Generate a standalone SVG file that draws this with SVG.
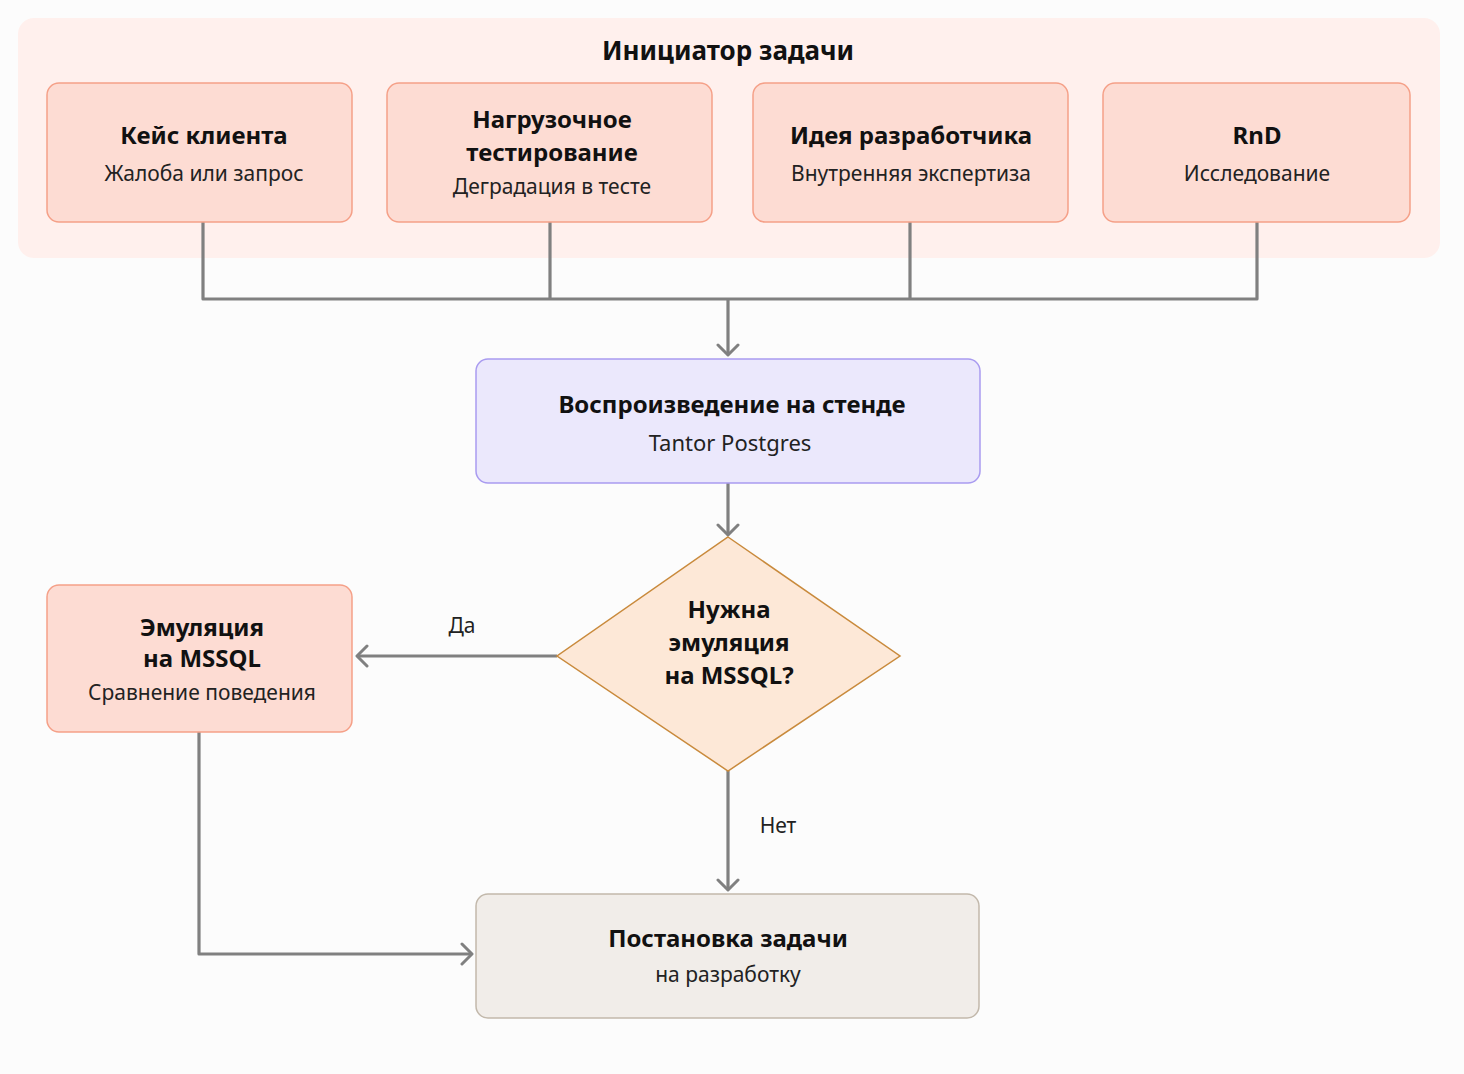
<svg xmlns="http://www.w3.org/2000/svg" width="1464" height="1074" viewBox="0 0 1464 1074">
<defs>
<marker id="arr" markerUnits="userSpaceOnUse" markerWidth="24" markerHeight="24" viewBox="0 0 24 24" refX="20" refY="12" orient="auto">
<path d="M10,2 L20,12 L10,22" fill="none" stroke="#808080" stroke-width="3" stroke-linecap="round" stroke-linejoin="round"/>
</marker>
</defs>
<style>
text{font-family:"Noto Sans","Open Sans","Liberation Sans",sans-serif;fill:#111;text-anchor:middle}
.t{font-size:24px;font-weight:700}
.s{font-size:21px;font-weight:400;fill:#222}
.lbl{font-size:21px;font-weight:400;fill:#222}
.init rect{fill:#fddcd3;stroke:#f5a088;stroke-width:1.5}
.con{fill:none;stroke:#808080;stroke-width:3.2;stroke-linejoin:round}
</style>
<rect width="1464" height="1074" fill="#fcfcfc"/>
<g id="initiator">
<rect x="18" y="18" width="1422" height="240" rx="16" fill="#fff0ed"/>
<text x="728" y="60" style="font-size:26px;font-weight:700">Инициатор задачи</text>
</g>
<g id="connectors">
<path class="con" d="M203,222 V299 H1257 V222"/>
<path class="con" d="M550,222 V299"/>
<path class="con" d="M910,222 V299"/>
<path class="con" d="M728,299 V355" marker-end="url(#arr)"/>
<path class="con" d="M728,483 V535" marker-end="url(#arr)"/>
<path class="con" d="M557,656 H357" marker-end="url(#arr)"/>
<path class="con" d="M728,771 V890" marker-end="url(#arr)"/>
<path class="con" d="M199,732 V954 H472" marker-end="url(#arr)"/>
<text class="lbl" x="462" y="633">Да</text>
<text class="lbl" x="778" y="833">Нет</text>
</g>
<g id="client" class="init">
<rect x="47" y="83" width="305" height="139" rx="12"/>
<text class="t" x="204" y="144">Кейс клиента</text>
<text class="s" x="204" y="181">Жалоба или запрос</text>
</g>
<g id="load" class="init">
<rect x="387" y="83" width="325" height="139" rx="12"/>
<text class="t" x="552" y="128">Нагрузочное</text>
<text class="t" x="552" y="161">тестирование</text>
<text class="s" x="552" y="194">Деградация в тесте</text>
</g>
<g id="dev" class="init">
<rect x="753" y="83" width="315" height="139" rx="12"/>
<text class="t" x="911" y="144">Идея разработчика</text>
<text class="s" x="911" y="181">Внутренняя экспертиза</text>
</g>
<g id="rnd" class="init">
<rect x="1103" y="83" width="307" height="139" rx="12"/>
<text class="t" x="1257" y="144">RnD</text>
<text class="s" x="1257" y="181">Исследование</text>
</g>
<g id="repro">
<rect x="476" y="359" width="504" height="124" rx="12" fill="#ebe8fc" stroke="#a99bf0" stroke-width="1.5"/>
<text class="t" x="732" y="413">Воспроизведение на стенде</text>
<text class="s" x="730" y="451" style="font-size:22px">Tantor Postgres</text>
</g>
<g id="decision">
<polygon points="728,537 900,656 728,771 557,656" fill="#fde8d7" stroke="#c98a3c" stroke-width="1.5"/>
<text class="t" x="729" y="618">Нужна</text>
<text class="t" x="729" y="651">эмуляция</text>
<text class="t" x="729" y="684">на MSSQL?</text>
</g>
<g id="emul" class="init">
<rect x="47" y="585" width="305" height="147" rx="12"/>
<text class="t" x="202" y="636">Эмуляция</text>
<text class="t" x="202" y="667">на MSSQL</text>
<text class="s" x="202" y="700">Сравнение поведения</text>
</g>
<g id="task">
<rect x="476" y="894" width="503" height="124" rx="12" fill="#f1ede9" stroke="#c2b8ab" stroke-width="1.5"/>
<text class="t" x="728" y="947">Постановка задачи</text>
<text class="s" x="728" y="982">на разработку</text>
</g>
</svg>
